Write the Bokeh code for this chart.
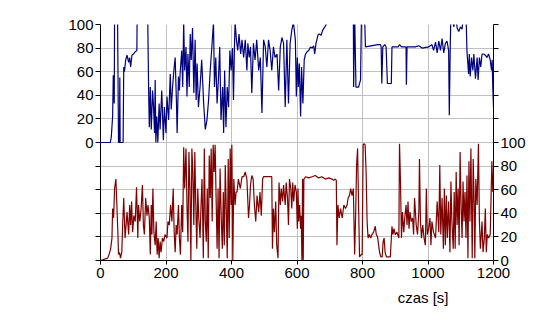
from bokeh.plotting import figure
from bokeh.models import Range1d, LinearAxis, FixedTicker, Title
from bokeh.embed import file_html
from bokeh.resources import INLINE

# ---- data: time [s] and values (%) ----
time_blue = [
    0, 30, 33, 37, 39, 42, 43, 52, 55, 58,
    59, 60, 69, 71, 73, 77, 81, 86, 89, 92,
    96, 101, 106, 111, 112, 144, 147, 149, 152, 155,
    159, 162, 165, 167, 169, 172, 175, 179, 182, 187,
    192, 195, 200, 203, 208, 213, 216, 220, 224, 228,
    232, 234, 238, 241, 243, 248, 251, 254, 257, 261,
    264, 267, 271, 274, 277, 281, 285, 289, 292, 295,
    299, 304, 309, 315, 320, 325, 330, 335, 340, 345,
    348, 352, 356, 360, 364, 368, 373, 376, 379, 383,
    387, 391, 395, 399, 403, 406, 409, 411, 415, 419,
    423, 428, 432, 437, 442, 447, 450, 454, 458, 462,
    467, 472, 477, 483, 488, 493, 498, 503, 508, 513,
    518, 523, 528, 533, 539, 544, 549, 554, 559, 564,
    569, 574, 579, 584, 589, 595, 598, 601, 604, 607,
    611, 614, 618, 622, 626, 631, 636, 641, 646, 651,
    654, 658, 664, 668, 674, 678, 685, 689, 693, 772,
    773, 776, 780, 788, 794, 797, 806, 809, 847, 855,
    857, 859, 862, 868, 872, 876, 888, 890, 909, 913,
    919, 933, 934, 936, 961, 972, 982, 1002, 1012, 1017,
    1023, 1028, 1033, 1038, 1043, 1048, 1053, 1058, 1063, 1065,
    1068, 1070, 1079, 1084, 1089, 1094, 1099, 1104, 1109, 1116,
    1119, 1124, 1126, 1129, 1133, 1137, 1140, 1145, 1150, 1153,
    1157, 1161, 1165, 1170, 1175, 1180, 1185, 1190, 1194, 1196,
    1198, 1200,
]
value_blue = [
    0, 0, 5, 22, 57, 33, 110, 110, 0, 0,
    55, 0, 0, 64, 60, 70, 74, 68, 72, 64,
    74, 75, 77, 78, 110, 110, 44, 13, 47, 11,
    44, 30, 8, 53, 0, 22, 0, 33, 11, 44,
    2, 30, 8, 39, 19, 58, 28, 47, 61, 72,
    33, 8, 56, 44, 58, 78, 47, 102, 61, 81,
    39, 75, 47, 92, 70, 97, 42, 87, 36, 67,
    30, 47, 70, 33, 11, 19, 36, 61, 81, 102,
    47, 72, 33, 53, 81, 19, 47, 8, 61, 13,
    47, 30, 78, 61, 80, 36, 81, 102, 87, 78,
    92, 75, 87, 72, 87, 61, 84, 72, 81, 42,
    84, 70, 87, 61, 72, 25, 87, 81, 64, 87,
    78, 61, 81, 72, 75, 44, 81, 89, 84, 30,
    87, 33, 84, 95, 102, 87, 39, 72, 47, 67,
    22, 64, 33, 70, 75, 77, 78, 81, 80, 82,
    75, 84, 91, 92, 91, 95, 98, 100, 110, 110,
    47, 110, 47, 47, 53, 110, 110, 81, 83, 83,
    81, 50, 81, 83, 81, 50, 50, 81, 81, 83,
    81, 81, 49, 81, 81, 82, 80, 81, 83, 78,
    85, 76, 86, 78, 88, 76, 84, 86, 78, 23,
    82, 110, 98, 110, 97, 94, 98, 96, 110, 110,
    77, 58, 75, 56, 72, 61, 75, 54, 72, 53,
    72, 64, 75, 75, 74, 72, 75, 70, 61, 70,
    45, 30,
]

time_red = [
    0, 22, 26, 31, 35, 37, 40, 43, 47, 50,
    53, 55, 58, 61, 65, 68, 71, 75, 78, 81,
    86, 89, 92, 95, 98, 102, 106, 110, 114, 116,
    120, 124, 128, 131, 134, 138, 142, 145, 149, 152,
    155, 157, 160, 163, 167, 170, 173, 176, 179, 182,
    185, 189, 193, 197, 203, 206, 210, 214, 218, 222,
    225, 228, 231, 234, 238, 241, 244, 248, 251, 254,
    257, 261, 264, 267, 270, 273, 276, 279, 282, 285,
    288, 291, 294, 297, 300, 304, 307, 310, 314, 317,
    320, 323, 326, 329, 332, 335, 338, 341, 344, 347,
    350, 353, 356, 359, 362, 365, 369, 372, 375, 378,
    381, 384, 387, 390, 393, 396, 399, 401, 404, 407,
    411, 414, 417, 421, 427, 432, 437, 442, 447, 452,
    455, 458, 462, 466, 470, 474, 478, 483, 487, 491,
    495, 498, 523, 525, 528, 531, 535, 538, 542, 545,
    549, 552, 556, 559, 564, 567, 571, 574, 577, 581,
    584, 587, 590, 594, 598, 601, 603, 605, 608, 611,
    613, 615, 617, 619, 621, 626, 636, 646, 656, 666,
    676, 687, 697, 707, 712, 717, 720, 722, 725, 729,
    733, 738, 743, 748, 753, 756, 760, 764, 768, 772,
    776, 779, 782, 785, 788, 791, 796, 799, 802, 805,
    808, 811, 814, 817, 821, 825, 829, 834, 839, 842,
    846, 852, 856, 860, 863, 866, 869, 873, 885, 890,
    893, 896, 900, 905, 911, 913, 916, 919, 922, 926,
    929, 933, 936, 939, 942, 945, 949, 953, 956, 959,
    964, 968, 972, 974, 977, 980, 984, 988, 992, 995,
    998, 1002, 1006, 1009, 1012, 1017, 1023, 1028, 1033, 1036,
    1039, 1043, 1047, 1050, 1053, 1056, 1059, 1063, 1067, 1070,
    1073, 1077, 1080, 1083, 1086, 1089, 1092, 1095, 1098, 1101,
    1104, 1107, 1110, 1113, 1116, 1119, 1122, 1125, 1128, 1131,
    1135, 1138, 1141, 1143, 1146, 1150, 1154, 1157, 1160, 1165,
    1168, 1172, 1175, 1178, 1181, 1185, 1190, 1195, 1198, 1200,
]
value_red = [
    0, 2, 5, 10, 19, 44, 36, 61, 69, 47,
    24, 5, 7, 2, 7, 33, 53, 19, 30, 41,
    22, 47, 30, 50, 24, 38, 33, 62, 19, 47,
    33, 44, 64, 30, 22, 53, 38, 47, 36, 5,
    47, 22, 61, 24, 13, 33, 5, 19, 2, 16,
    7, 19, 16, 22, 19, 33, 30, 47, 33, 61,
    24, 7, 30, 22, 47, 19, 5, 47, 24, 96,
    61, 95, 47, 16, 92, 61, 0, 95, 75, 30,
    92, 47, 10, 61, 36, 19, 47, 69, 2, 95,
    33, 16, 61, 2, 89, 53, 95, 33, 98, 75,
    98, 53, 10, 61, 2, 78, 33, 10, 58, 13,
    81, 44, 2, 86, 19, 95, 47, 98, 0, 69,
    47, 58, 58, 69, 61, 71, 71, 75, 69, 36,
    47, 64, 72, 69, 47, 33, 55, 41, 58, 38,
    69, 71, 71, 10, 44, 24, 50, 13, 2, 66,
    47, 61, 50, 64, 47, 66, 53, 30, 69, 61,
    44, 66, 50, 64, 58, 27, 61, 33, 47, 27,
    38, 0, 69, 0, 69, 71, 70, 71, 72, 70,
    71, 69, 70, 69, 68, 69, 68, 13, 47, 36,
    44, 36, 47, 44, 47, 53, 55, 61, 55, 61,
    5, 38, 81, 95, 47, 3, 5, 5, 98, 99,
    98, 75, 33, 19, 22, 19, 22, 24, 29, 22,
    20, 7, 3, 3, 16, 19, 7, 3, 3, 29,
    22, 27, 22, 24, 19, 99, 67, 19, 41, 24,
    36, 47, 30, 50, 27, 41, 33, 36, 22, 53,
    30, 22, 41, 86, 33, 19, 30, 19, 13, 61,
    22, 27, 36, 13, 33, 24, 19, 50, 24, 81,
    22, 53, 10, 61, 13, 55, 19, 50, 7, 67,
    33, 10, 58, 10, 75, 30, 61, 13, 92, 47,
    19, 67, 33, 58, 19, 72, 2, 84, 33, 95,
    2, 86, 47, 2, 69, 47, 99, 33, 10, 33,
    7, 19, 44, 7, 22, 19, 22, 84, 58, 72,
]

x_ticks = [0, 200, 400, 600, 800, 1000, 1200]
y_ticks = [0, 20, 40, 60, 80, 100]
y_hidden_left = [-100, -80, -60, -40, -20]
y_hidden_right = [120, 140, 160, 180, 200]
grid_y = [0, 20, 40, 60, 80, 100, 120, 140, 160, 180, 200]
x_label = "czas [s]"

FONT = "Liberation Sans"
FS = "15px"

p = figure(width=530, height=330, output_backend="svg", toolbar_location=None,
           x_range=Range1d(0, 1200), y_range=Range1d(0, 200),
           y_axis_location="right",
           min_border_left=100, min_border_right=37,
           min_border_top=24, min_border_bottom=70)
p.extra_y_ranges = {"blue": Range1d(-100, 100)}
p.outline_line_color = None
p.background_fill_color = "white"
p.border_fill_color = "white"

# grids
p.xgrid.ticker = FixedTicker(ticks=x_ticks)
p.ygrid.ticker = FixedTicker(ticks=grid_y)
for g in (p.xgrid[0], p.ygrid[0]):
    g.grid_line_color = "#c0c0c0"
    g.grid_line_width = 1

def style_axis(ax):
    ax.axis_line_color = "black"
    ax.axis_line_width = 1
    ax.major_tick_line_color = "black"
    ax.minor_tick_line_color = "black"
    ax.major_tick_in = 0
    ax.minor_tick_in = 0
    ax.major_label_text_font = FONT
    ax.major_label_text_font_size = FS
    ax.major_label_text_color = "black"

# right axis (red series, range 0..200, labels 0..100)
ax_r = p.yaxis[0]
ax_r.ticker = FixedTicker(ticks=y_ticks, minor_ticks=y_hidden_right)
style_axis(ax_r)
ax_r.major_tick_out = 5
ax_r.minor_tick_out = 5
ax_r.major_label_standoff = 2

# left axis (blue series, range -100..100, labels 0..100)
ax_l = LinearAxis(y_range_name="blue",
                  ticker=FixedTicker(ticks=y_ticks, minor_ticks=y_hidden_left))
style_axis(ax_l)
ax_l.major_tick_out = 5
ax_l.minor_tick_out = 5
ax_l.major_label_standoff = 2
p.add_layout(ax_l, "left")

# x axis
ax_x = p.xaxis[0]
ax_x.ticker = FixedTicker(ticks=x_ticks)
style_axis(ax_x)
ax_x.major_tick_out = 4
ax_x.minor_tick_line_color = None
ax_x.major_label_standoff = 3

p.line(time_blue, value_blue, y_range_name="blue", line_color="#000080", line_width=1.2)
p.line(time_red, value_red, line_color="#800000", line_width=1.2)

p.add_layout(Title(text=x_label, align="right", offset=45, standoff=12,
                   text_font=FONT, text_font_size=FS, text_font_style="normal",
                   text_color="black"), "below")

open("out.html", "w").write(file_html(p, INLINE))
